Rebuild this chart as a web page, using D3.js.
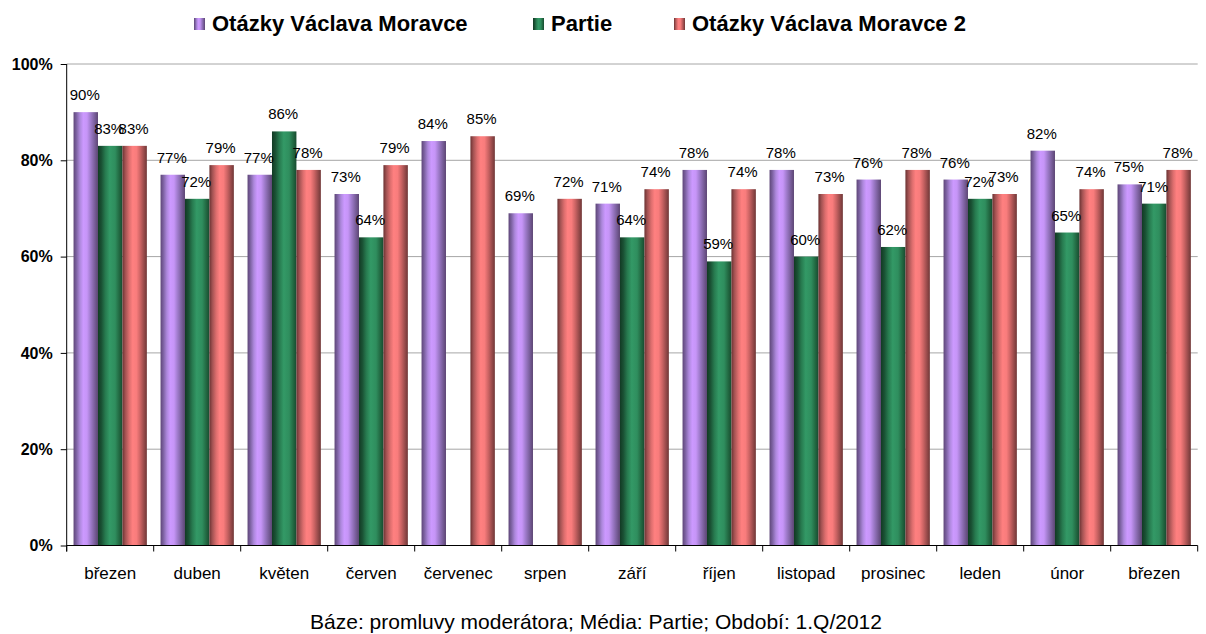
<!DOCTYPE html>
<html>
<head>
<meta charset="utf-8">
<script src="https://cdn.jsdelivr.net/npm/d3@7"></script>
<style>
  html, body { margin: 0; padding: 0; background: #fff; }
  svg { display: block; }
  text { font-family: "Liberation Sans", Arial, sans-serif; }
</style>
</head>
<body>
<svg id="chart" width="1206" height="634"></svg>
<script>
// ---- data ----
const categories = ["březen", "duben", "květen", "červen", "červenec", "srpen", "září", "říjen", "listopad", "prosinec", "leden", "únor", "březen"];
const seriesNames = ["Otázky Václava Moravce", "Partie", "Otázky Václava Moravce 2"];
const otazky = [90, 77, 77, 73, 84, 69, 71, 78, 78, 76, 76, 82, 75];
const partie = [83, 72, 86, 64, null, null, 64, 59, 60, 62, 72, 65, 71];
const otazky2 = [83, 79, 78, 79, 85, 72, 74, 74, 73, 78, 73, 74, 78];
const yTicks = [0, 20, 40, 60, 80, 100];
const caption = "Báze: promluvy moderátora; Média: Partie; Období: 1.Q/2012";

const seriesValues = [otazky, partie, otazky2];

// ---- layout ----
const svg = d3.select("#chart");
const plotLeft = 66.7, plotRight = 1197.7, plotTop = 64, plotBottom = 545.5;

const gradients = [
  { id: "gPurple", stops: [[0, "#5e4678"], [0.12, "#7e63a3"], [0.26, "#ad88dc"], [0.4, "#cc99ff"], [0.55, "#c695f7"], [0.7, "#9f7bcb"], [0.86, "#7a5f9c"], [1, "#5c4573"]] },
  { id: "gGreen", stops: [[0, "#123a24"], [0.14, "#1a5134"], [0.3, "#277a4f"], [0.48, "#339966"], [0.7, "#2f8e5e"], [0.88, "#216640"], [1, "#184b30"]] },
  { id: "gRed", stops: [[0, "#6b3232"], [0.12, "#a25252"], [0.28, "#dd6e6e"], [0.42, "#ff8080"], [0.58, "#f87c7c"], [0.73, "#cc6464"], [0.88, "#984b4b"], [1, "#703737"]] }
];
const defs = svg.append("defs");
gradients.forEach(g => {
  const lg = defs.append("linearGradient").attr("id", g.id).attr("x1", "0").attr("x2", "1").attr("y1", "0").attr("y2", "0");
  g.stops.forEach(s => lg.append("stop").attr("offset", s[0]).attr("stop-color", s[1]));
});

const x0 = d3.scaleBand().domain(d3.range(categories.length)).range([plotLeft, plotRight]).paddingInner(0).paddingOuter(0);
const x1 = d3.scaleBand().domain(d3.range(seriesNames.length)).range([0, x0.bandwidth()]).paddingInner(0).paddingOuter(0.28);
const y = d3.scaleLinear().domain([0, 100]).range([plotBottom, plotTop]);

// gridlines
svg.append("g").selectAll("line").data(yTicks.filter(t => t > 0)).join("line")
  .attr("x1", plotLeft).attr("x2", plotRight)
  .attr("y1", d => y(d)).attr("y2", d => y(d))
  .attr("stroke", "#a6a6a6").attr("stroke-width", 1);

// bars
const groups = svg.append("g").selectAll("g").data(categories.map((c, i) => i)).join("g")
  .attr("transform", i => `translate(${x0(i)},0)`);

groups.selectAll("rect").data(i => seriesValues.map((vals, s) => ({ s, v: vals[i] })).filter(d => d.v != null)).join("rect")
  .attr("x", d => x1(d.s))
  .attr("width", x1.bandwidth())
  .attr("y", d => y(d.v))
  .attr("height", d => y(0) - y(d.v))
  .attr("fill", d => `url(#${gradients[d.s].id})`);

groups.selectAll("text.lbl").data(i => seriesValues.map((vals, s) => ({ s, v: vals[i] })).filter(d => d.v != null)).join("text")
  .attr("class", "lbl")
  .attr("x", d => x1(d.s) + x1.bandwidth() / 2 - 1)
  .attr("y", d => y(d.v) - 12)
  .attr("text-anchor", "middle")
  .attr("font-size", "15px")
  .attr("fill", "#000")
  .text(d => d.v + "%");

// y axis
const yAxis = d3.axisLeft(y).tickValues(yTicks).tickSize(6).tickPadding(8).tickFormat(d => d + "%");
const gy = svg.append("g").attr("transform", `translate(${plotLeft},0)`).call(yAxis);
gy.select(".domain").attr("d", `M0,${plotTop}V${plotBottom + 6}`).attr("stroke", "#000");
gy.selectAll(".tick line").attr("stroke", "#000");
gy.selectAll(".tick text").attr("font-size", "16px").attr("font-weight", "bold")
  .attr("font-family", "'Liberation Sans', Arial, sans-serif").attr("fill", "#000");

// x axis
svg.append("line").attr("x1", plotLeft).attr("x2", plotRight).attr("y1", plotBottom).attr("y2", plotBottom).attr("stroke", "#000");
svg.append("g").selectAll("line").data(d3.range(categories.length + 1)).join("line")
  .attr("x1", i => plotLeft + i * x0.step()).attr("x2", i => plotLeft + i * x0.step())
  .attr("y1", plotBottom).attr("y2", plotBottom + 6).attr("stroke", "#000");
svg.append("g").selectAll("text").data(categories).join("text")
  .attr("x", (d, i) => x0(i) + x0.bandwidth() / 2)
  .attr("y", 579)
  .attr("text-anchor", "middle")
  .attr("font-size", "17px")
  .attr("fill", "#000")
  .text(d => d);

// legend
const legendX = [194, 533, 674];
const lg = svg.append("g").selectAll("g").data(seriesNames).join("g")
  .attr("transform", (d, i) => `translate(${legendX[i]},0)`);
lg.append("rect").attr("x", 0).attr("y", 18).attr("width", 11).attr("height", 12)
  .attr("fill", (d, i) => `url(#${gradients[i].id})`);
lg.append("text").attr("x", 18).attr("y", 31).attr("font-size", "22px").attr("font-weight", "bold")
  .attr("fill", "#000").text(d => d);

// caption
svg.append("text").attr("x", 596).attr("y", 629).attr("text-anchor", "middle")
  .attr("font-size", "21px").attr("fill", "#000").text(caption);
</script>
</body>
</html>
